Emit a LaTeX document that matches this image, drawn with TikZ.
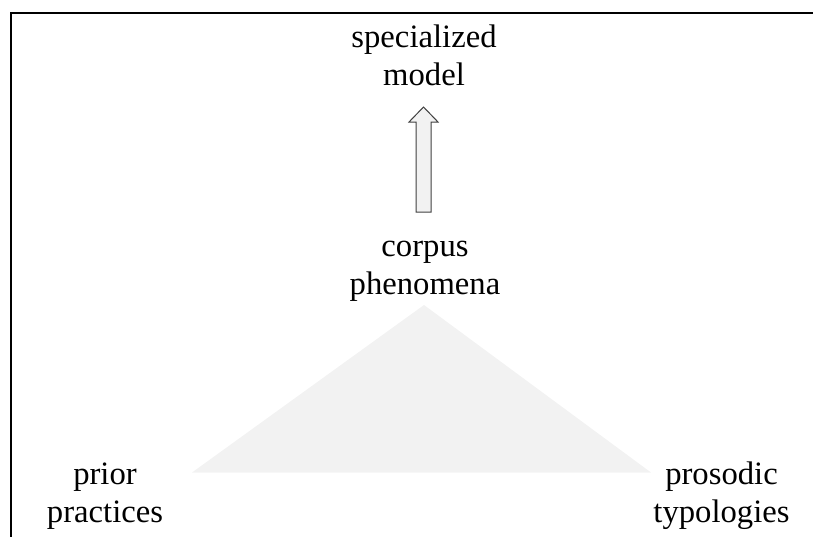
\documentclass[tikz,border=0pt]{standalone}
\usepackage{fontspec}
\setmainfont{Liberation Serif}
\definecolor{lightgrey}{RGB}{242,242,242}
\definecolor{edgegrey}{RGB}{64,64,64}
\tikzset{
  termtext/.style={align=center, anchor=base, inner sep=0pt, font=\fontsize{24.5}{28.5}\selectfont},
  blockarrow/.style={draw=edgegrey, fill=lightgrey, line width=0.75pt, line join=miter},
}

\begin{document}
\begin{tikzpicture}[x=0.75pt, y=-0.75pt]
\useasboundingbox (0,0) rectangle (813,537);
\draw[line width=1.5pt] (813,13) -- (11,13) -- (11,537);

% triangle of sources
\coordinate (apex) at (424,305);
\coordinate (baseleft) at (192,472.5);
\coordinate (baseright) at (651,472.5);
\fill[lightgrey] (apex) -- (baseleft) -- (baseright) -- cycle;

\node[termtext] (model) at (424,85) {specialized\\model};
\node[termtext] (corpus) at (425,294) {corpus\\phenomena};
\node[termtext] (prior) at (105,522.7) {prior\\practices};
\node[termtext] (prosodic) at (721.5,522.7) {prosodic\\typologies};

% block arrow up to the model
\coordinate (tail) at (423.5,212);
\coordinate (tip) at (423.5,107);
\draw[blockarrow] (tail) ++(-7.5,0) -- ++(0,-90) -- ++(-7,0) -- (tip)
  -- ++(14.5,15) -- ++(-7,0) -- ++(0,90) -- cycle;
\end{tikzpicture}
\end{document}
